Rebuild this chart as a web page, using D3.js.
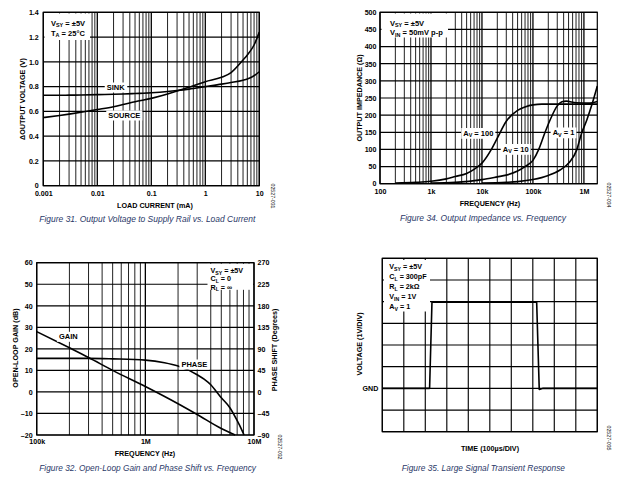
<!DOCTYPE html>
<html><head><meta charset="utf-8">
<script src="https://cdn.jsdelivr.net/npm/d3@7"></script>
<style>body{margin:0;background:#fff} text{font-family:"Liberation Sans",Arial,Helvetica,sans-serif}</style>
</head><body><svg id="c" width="620" height="485"></svg>
<script>
// ---------- DATA ----------
// Figure 31
const loadCurrent = [0.001, 0.002, 0.003, 0.005, 0.01, 0.02, 0.03, 0.05, 0.1, 0.2, 0.3, 0.5, 1, 2, 3, 5, 6, 8, 10];
const sinkV   = [0.73, 0.73, 0.731, 0.732, 0.735, 0.738, 0.740, 0.744, 0.750, 0.760, 0.768, 0.780, 0.800, 0.820, 0.833, 0.852, 0.862, 0.888, 0.920];
const sourceV = [0.55, 0.567, 0.578, 0.593, 0.615, 0.638, 0.655, 0.678, 0.705, 0.740, 0.765, 0.795, 0.840, 0.875, 0.913, 1.015, 1.055, 1.136, 1.240];
const f31XTicks = [0.001, 0.01, 0.1, 1, 10];
const f31XLabels = ["0.001", "0.01", "0.1", "1", "10"];
const f31YTicks = [0, 0.2, 0.4, 0.6, 0.8, 1.0, 1.2, 1.4];
const f31YLabels = ["0", "0.2", "0.4", "0.6", "0.8", "1.0", "1.2", "1.4"];

// Figure 34
const av100Freq = [200, 500, 1e3, 2e3, 3e3, 5e3, 7e3, 1e4, 1.5e4, 2e4, 3e4, 5e4, 7e4, 1e5, 1.5e5, 2e5, 5e5, 1e6, 1.83e6];
const av100Z    = [2, 4, 7, 14, 21, 30, 42, 60, 98, 133, 182, 214, 224, 230, 232, 232, 232, 232, 232];
const av10Freq  = [1e3, 3e3, 1e4, 2e4, 3e4, 5e4, 7e4, 1e5, 1.3e5, 1.7e5, 2.2e5, 3e5, 3.7e5, 4.5e5, 7e5, 1.3e6, 1.83e6];
const av10Z     = [2, 4, 12, 20, 25, 37, 50, 68, 100, 147, 188, 227, 239, 241, 236, 235, 240];
const av1Freq   = [1e4, 3e4, 5e4, 1e5, 2e5, 3.4e5, 5.3e5, 7.2e5, 9e5, 1.14e6, 1.43e6, 1.83e6];
const av1Z      = [2, 4, 6, 12, 24, 40, 64, 98, 147, 186, 230, 285];
const f34XTicks = [100, 1e3, 1e4, 1e5, 1e6];
const f34XLabels = ["100", "1k", "10k", "100k", "1M"];
const f34YTicks = [0, 50, 100, 150, 200, 250, 300, 350, 400, 450, 500];
const f34YLabels = ["0", "50", "100", "150", "200", "250", "300", "350", "400", "450", "500"];

// Figure 32
const gainFreq = [1e5, 2e5, 3e5, 5e5, 1e6, 2e6, 3e6, 5e6, 6.7e6];
const gainDb   = [28, 20.5, 16, 10, 2.5, -5.5, -10.5, -17, -20];
const phaseFreq = [1e5, 3e5, 5e5, 1e6, 1.5e6, 2e6, 3e6, 3.5e6, 4e6, 4.5e6, 5e6, 6e6, 7e6, 7.6e6, 8.1e6];
const phaseDeg  = [70, 70, 69, 66.5, 61, 54, 36, 26, 15, 1, -12, -33, -60, -76, -90];
const f32XTicks = [1e5, 1e6, 1e7];
const f32XLabels = ["100k", "1M", "10M"];
const f32YTicks = [-20, -10, 0, 10, 20, 30, 40, 50, 60];
const f32YLabels = ["–20", "–10", "0", "10", "20", "30", "40", "50", "60"];
const f32PTicks = [-90, -45, 0, 45, 90, 135, 180, 225, 270];
const f32PLabels = ["–90", "–45", "0", "45", "90", "135", "180", "225", "270"];

// Figure 35
const timeDiv = [0, 2.2, 2.31, 7.18, 7.30, 7.48, 10];
const voltDiv = [0, 0, 3.97, 3.97, -0.05, 0, 0];
const f35XDivs = [0, 1, 2, 3, 4, 5, 6, 7, 8, 9, 10];
const f35YDivs = [-2, -1, 0, 1, 2, 3, 4, 5, 6];

// ---------- DRAWING ----------
const svg = d3.select("#c");
const CAP = "#2a3868";
const TICK = 7.1;

function richText(g, x, y, str, size, anchor) {
  const t = g.append("text").attr("x", x).attr("y", y).attr("font-size", size)
    .attr("font-weight", "bold").attr("text-anchor", anchor || "start").attr("fill", "#000");
  const re = /_\{([^}]*)\}/g; let last = 0, m, shifted = false;
  while ((m = re.exec(str))) {
    if (m.index > last) { t.append("tspan").text(str.slice(last, m.index)).attr("dy", shifted ? -1.8 : 0); shifted = false; }
    t.append("tspan").text(m[1]).attr("font-size", size * 0.72).attr("dy", shifted ? 0 : 1.8); shifted = true;
    last = re.lastIndex;
  }
  if (last < str.length) t.append("tspan").text(str.slice(last)).attr("dy", shifted ? -1.8 : 0);
  return t;
}
function withBg(g, t, px, py) {
  const b = t.node().getBBox();
  g.insert("rect", () => t.node()).attr("x", b.x - px).attr("y", b.y - py)
    .attr("width", b.width + 2 * px).attr("height", b.height + 2 * py).attr("fill", "#fff");
}
function logValues(dom) {
  const out = [];
  const d0 = Math.floor(Math.log10(dom[0])), d1 = Math.ceil(Math.log10(dom[1]));
  for (let d = d0; d <= d1; d++) for (let k = 1; k <= 9; k++) {
    const v = +(k * Math.pow(10, d)).toPrecision(6);
    if (v >= dom[0] * 0.9999 && v <= dom[1] * 1.0001) out.push({ v, major: k === 1 });
  }
  return out;
}
function vGridLog(g, x, y) {
  const yr = y.range();
  g.append("g").selectAll("line").data(logValues(x.domain())).join("line")
    .attr("x1", d => x(d.v)).attr("x2", d => x(d.v)).attr("y1", yr[0]).attr("y2", yr[1])
    .attr("stroke", d => d.major ? "#000" : "#222").attr("stroke-width", d => d.major ? 1.3 : 1.0);
}
function hGrid(g, x, y, vals) {
  const xr = x.range();
  g.append("g").selectAll("line").data(vals).join("line")
    .attr("x1", xr[0]).attr("x2", xr[1]).attr("y1", d => y(d)).attr("y2", d => y(d))
    .attr("stroke", "#000").attr("stroke-width", 1.2);
}
function frame(g, x, y) {
  const xr = x.range(), yr = y.range();
  g.append("rect").attr("x", xr[0]).attr("y", yr[1]).attr("width", xr[1] - xr[0]).attr("height", yr[0] - yr[1])
    .attr("fill", "none").attr("stroke", "#000").attr("stroke-width", 1.2);
}
function styleAxis(a) {
  a.select(".domain").remove();
  a.selectAll("line").remove();
  a.selectAll("text").attr("font-size", TICK).attr("font-weight", "bold").attr("fill", "#000")
    .attr("font-family", "'Liberation Sans',Arial,sans-serif");
}
function xAxis(g, x, y0, ticks, labels, pad) {
  const a = g.append("g").attr("transform", `translate(0,${y0})`)
    .call(d3.axisBottom(x).tickValues(ticks).tickFormat((d, i) => labels[i]).tickSize(0).tickPadding(pad));
  styleAxis(a);
}
function yAxis(g, y, x0, ticks, labels, pad, right) {
  const ax = right ? d3.axisRight(y) : d3.axisLeft(y);
  const a = g.append("g").attr("transform", `translate(${x0},0)`)
    .call(ax.tickValues(ticks).tickFormat((d, i) => labels[i]).tickSize(0).tickPadding(pad));
  styleAxis(a);
}
function title(g, x, y, str, rot) {
  const t = g.append("text").attr("font-size", 7.2).attr("font-weight", "bold").attr("text-anchor", "middle").text(str);
  if (rot) t.attr("transform", `translate(${x},${y}) rotate(${rot})`); else t.attr("x", x).attr("y", y);
  return t;
}
function caption(g, x, y, str, w) {
  g.append("text").attr("x", x).attr("y", y).attr("font-size", 8.6).attr("font-style", "italic")
    .attr("fill", CAP).attr("textLength", w).attr("lengthAdjust", "spacingAndGlyphs").text(str);
}
function sideId(g, x, y, str) {
  g.append("text").attr("font-size", 5.2).attr("text-anchor", "middle").attr("fill", "#000")
    .attr("transform", `translate(${x},${y}) rotate(90)`).text(str);
}
function infoBox(g, x, y, w, h, lines, tx, ty, dy, size) {
  g.append("rect").attr("x", x).attr("y", y).attr("width", w).attr("height", h).attr("fill", "#fff");
  lines.forEach((s, i) => richText(g, tx, ty + i * dy, s, size));
}
const lineGen = (x, y) => d3.line().x(d => x(d[0])).y(d => y(d[1])).curve(d3.curveMonotoneX);
function curve(g, x, y, xs, ys) {
  g.append("path").datum(xs.map((v, i) => [v, ys[i]])).attr("d", lineGen(x, y))
    .attr("fill", "none").attr("stroke", "#000").attr("stroke-width", 1.6).attr("stroke-linejoin", "round");
}

// ===== Figure 31 =====
{
  const g = svg.append("g");
  const x = d3.scaleLog().domain([0.001, 10]).range([43.3, 259.3]);
  const y = d3.scaleLinear().domain([0, 1.4]).range([185.7, 12.3]);
  vGridLog(g, x, y);
  hGrid(g, x, y, f31YTicks);
  infoBox(g, 44.5, 13.5, 45.5, 26.5, ["V_{SY} = ±5V", "T_{A} = 25°C"], 51, 25.5, 10, 7.5);
  curve(g, x, y, loadCurrent, sinkV);
  curve(g, x, y, loadCurrent, sourceV);
  const s1 = richText(g, 115.7, 90, "SINK", 7.5, "middle"); withBg(g, s1, 2, 0.5);
  const s2 = richText(g, 124.3, 118, "SOURCE", 7.5, "middle"); withBg(g, s2, 2, 0.5);
  frame(g, x, y);
  xAxis(g, x, 185.7, f31XTicks, f31XLabels, 5.4);
  yAxis(g, y, 43.3, f31YTicks, f31YLabels, 4.5);
  title(g, 155, 207.5, "LOAD CURRENT (mA)");
  title(g, 25, 99, "ΔOUTPUT VOLTAGE (V)", -90);
  caption(g, 39.3, 221.5, "Figure 31. Output Voltage to Supply Rail vs. Load Current", 216);
  sideId(g, 271, 196, "02527-031");
}

// ===== Figure 34 =====
{
  const g = svg.append("g");
  const x = d3.scaleLog().domain([100, 1.83e6]).range([380, 597.3]);
  const y = d3.scaleLinear().domain([0, 500]).range([183.7, 12.3]);
  vGridLog(g, x, y);
  hGrid(g, x, y, f34YTicks);
  infoBox(g, 381.5, 13.5, 66.5, 24, ["V_{SY} = ±5V", "V_{IN} = 50mV p-p"], 390, 25.5, 9.5, 7.5);
  curve(g, x, y, av100Freq, av100Z);
  curve(g, x, y, av10Freq, av10Z);
  curve(g, x, y, av1Freq, av1Z);
  const l1 = richText(g, 478.3, 135.5, "A_{V} = 100", 7.5, "middle"); withBg(g, l1, 2, 0.5);
  const l2 = richText(g, 515.7, 151.5, "A_{V} = 10", 7.5, "middle"); withBg(g, l2, 2, 0.5);
  const l3 = richText(g, 563.5, 135, "A_{V} = 1", 7.5, "middle"); withBg(g, l3, 2, 0.5);
  frame(g, x, y);
  xAxis(g, x, 183.7, f34XTicks, f34XLabels, 4.8);
  yAxis(g, y, 380, f34YTicks, f34YLabels, 3.5);
  title(g, 490, 205.5, "FREQUENCY (Hz)");
  title(g, 362, 98, "OUTPUT IMPEDANCE (Ω)", -90);
  caption(g, 400, 221, "Figure 34. Output Impedance vs. Frequency", 166);
  sideId(g, 606.5, 195, "02527-034");
}

// ===== Figure 32 =====
{
  const g = svg.append("g");
  const x = d3.scaleLog().domain([1e5, 1e7]).range([36.7, 254]);
  const y = d3.scaleLinear().domain([-20, 60]).range([435, 262.7]);
  const yp = d3.scaleLinear().domain([-90, 270]).range([435, 262.7]);
  vGridLog(g, x, y);
  hGrid(g, x, y, f32YTicks);
  infoBox(g, 207.5, 263.8, 45.5, 26, ["V_{SY} = ±5V", "C_{L} = 0", "R_{L} = ∞"], 210.5, 272.8, 8.4, 7.2);
  curve(g, x, y, gainFreq, gainDb);
  curve(g, x, yp, phaseFreq, phaseDeg);
  const gl = richText(g, 68.3, 339.3, "GAIN", 7.5, "middle"); withBg(g, gl, 2, 0.5);
  const pl = richText(g, 194.3, 367, "PHASE", 7.5, "middle"); withBg(g, pl, 2, 0.5);
  frame(g, x, y);
  xAxis(g, x, 435, f32XTicks, f32XLabels, 4.2);
  yAxis(g, y, 36.7, f32YTicks, f32YLabels, 4);
  yAxis(g, yp, 254, f32PTicks, f32PLabels, 3.5, true);
  title(g, 145, 455.5, "FREQUENCY (Hz)");
  title(g, 17.5, 348, "OPEN-LOOP GAIN (dB)", -90);
  title(g, 277, 350, "PHASE SHIFT (Degrees)", -90);
  caption(g, 39.3, 470.5, "Figure 32. Open-Loop Gain and Phase Shift vs. Frequency", 216.7);
  sideId(g, 278, 447, "02527-032");
}

// ===== Figure 35 =====
{
  const g = svg.append("g");
  const x = d3.scaleLinear().domain([0, 10]).range([382.3, 597.3]);
  const y = d3.scaleLinear().domain([-2, 6]).range([431.7, 258.3]);
  g.append("g").selectAll("line").data(f35XDivs).join("line")
    .attr("x1", d => x(d)).attr("x2", d => x(d)).attr("y1", y(-2)).attr("y2", y(6))
    .attr("stroke", "#111").attr("stroke-width", 1.2);
  hGrid(g, x, y, f35YDivs);
  infoBox(g, 384, 260, 46, 51.5, ["V_{SY} = ±5V", "C_{L} = 300pF", "R_{L} = 2kΩ", "V_{IN} = 1V", "A_{V} = 1"], 389.3, 269.3, 9.9, 7.2);
  g.append("path").datum(timeDiv.map((v, i) => [v, voltDiv[i]]))
    .attr("d", d3.line().x(d => x(d[0])).y(d => y(d[1])))
    .attr("fill", "none").attr("stroke", "#000").attr("stroke-width", 1.6).attr("stroke-linejoin", "round");
  frame(g, x, y);
  yAxis(g, y, 382.3, [0], ["GND"], 4);
  title(g, 490, 451, "TIME (100µs/DIV)");
  title(g, 362, 344, "VOLTAGE (1V/DIV)", -90);
  caption(g, 401.7, 470.5, "Figure 35. Large Signal Transient Response", 163.3);
  sideId(g, 606.5, 438, "02527-035");
}
</script></body></html>
